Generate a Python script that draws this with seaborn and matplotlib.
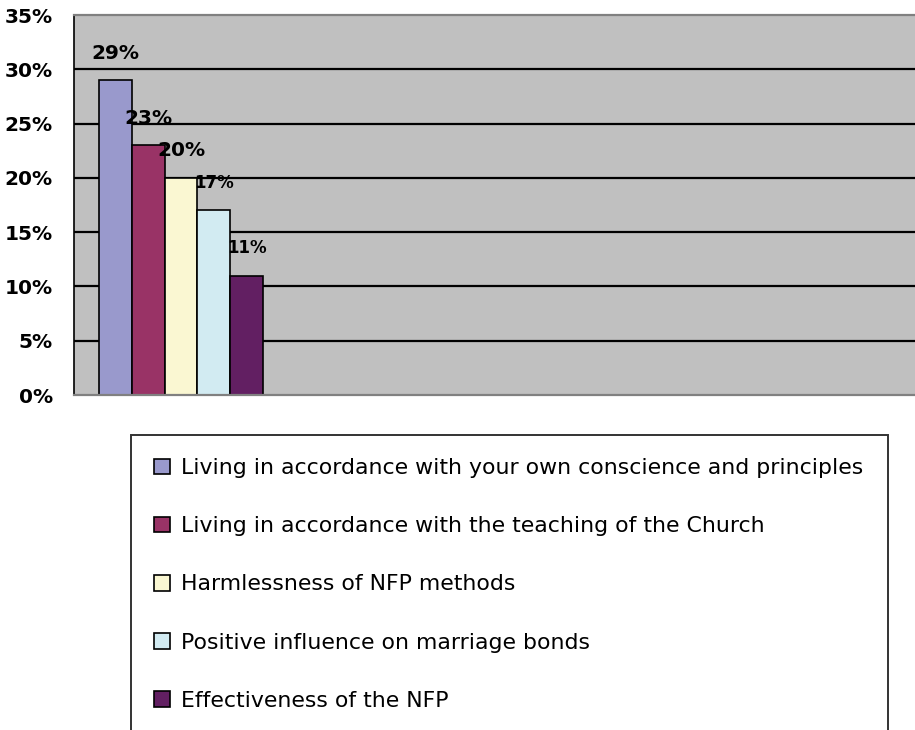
import numpy as np
import pandas as pd
import matplotlib
matplotlib.use("Agg")
import matplotlib.pyplot as plt
import seaborn as sns

sns.set_style("white")
plt.rcParams['font.family'] = ['DejaVu Sans']
plt.rcParams['text.color'] = 'black'
plt.rcParams['ytick.labelcolor'] = 'black'

# reasons for choosing NFP, share of answers
reasons = ["Living in accordance with your own conscience and principles",
           "Living in accordance with the teaching of the Church",
           "Harmlessness of NFP methods",
           "Positive influence on marriage bonds",
           "Effectiveness of the NFP"]
shares = [29, 23, 20, 17, 11]
colors = ["#9999CC", "#993366", "#FAF7D2", "#D2EBF2", "#621F62"]
yticks = [0, 5, 10, 15, 20, 25, 30, 35]

df = pd.DataFrame({"group": [""] * len(reasons), "reason": reasons, "share": shares})

fig = plt.figure(figsize=(9.15, 7.3), dpi=100)
ax = fig.add_axes([74 / 915, 1 - 395 / 730, 1 - 74 / 915, 380 / 730])
ax.set_facecolor("#C0C0C0")

sns.barplot(data=df, x="group", y="share", hue="reason", hue_order=reasons,
            palette=colors, width=0.8, edgecolor="black", linewidth=1.2,
            saturation=1, ax=ax, legend=True)

ax.set_xlim(-0.522, 3.58)
ax.set_ylim(0, 35)
ax.set_yticks(yticks)
ax.set_yticklabels([f"{t}%" for t in yticks], fontsize=14.5, fontweight="bold", color="black")
ax.set_xticks([])
ax.set_xlabel("")
ax.set_ylabel("")
for t in yticks[1:-1]:
    ax.axhline(t, color="black", lw=1.6, zorder=0.5)
ax.tick_params(axis="y", direction="out", length=5.8, width=1.2, color="black", pad=9.4)

for side in ["top", "bottom"]:
    ax.spines[side].set_color("#808080")
    ax.spines[side].set_linewidth(1.6)
ax.spines["right"].set_visible(False)
ax.spines["left"].set_color("black")
ax.spines["left"].set_linewidth(1.2)

# data labels
label_sizes = [14.5, 14.5, 14.5, 12, 12]
for i, cont in enumerate(ax.containers):
    bar = cont.patches[0]
    ax.annotate(f"{shares[i]}%", (bar.get_x() + bar.get_width() / 2, bar.get_height()),
                xytext=(0, 19.5), textcoords="offset points", ha="center", va="center",
                fontsize=label_sizes[i], fontweight="bold", color="black")

handles, labels = ax.get_legend_handles_labels()
ax.get_legend().remove()
leg = fig.legend(handles, labels, loc="upper left",
                 bbox_to_anchor=(131 / 915, -0.2, 757 / 915, 1 - 435 / 730 + 0.2),
                 mode="expand", fontsize=15.8, frameon=True, fancybox=False,
                 edgecolor="black", labelspacing=1.74, handlelength=0.72,
                 handleheight=0.72, handletextpad=0.5, borderpad=1.05, borderaxespad=0,
                 labelcolor="black")
leg.get_frame().set_linewidth(1.4)
leg.get_frame().set_edgecolor("black")

fig.savefig("out.png", dpi=100)
